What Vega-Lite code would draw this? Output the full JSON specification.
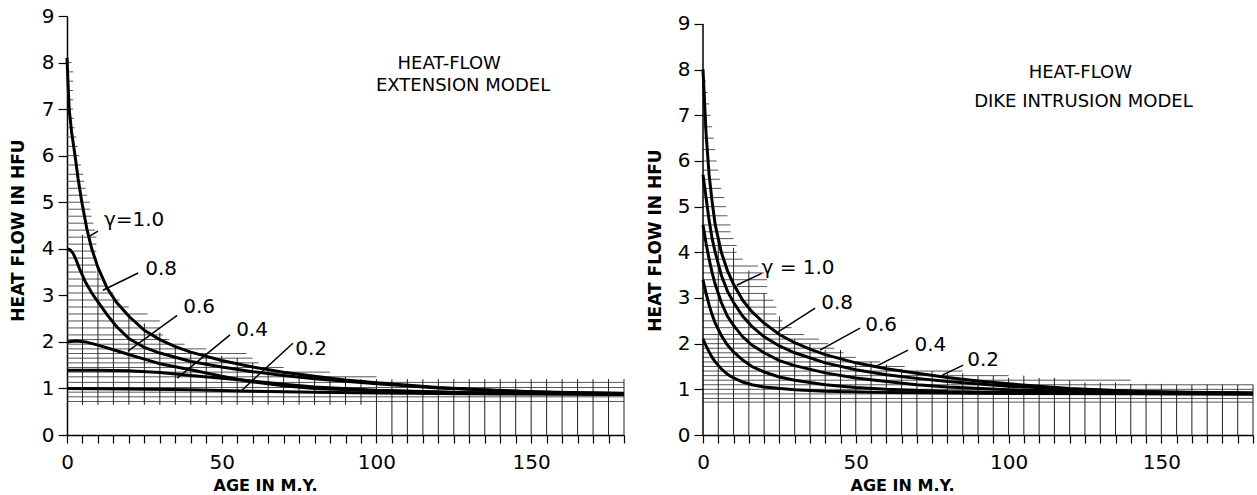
{
  "$schema": "https://vega.github.io/schema/vega-lite/v6.json",
  "padding": {"left": 9, "top": 6, "right": 4, "bottom": 2},
  "background": "white",
  "config": {
    "view": {"stroke": null},
    "axis": {"domainColor": "black", "tickColor": "black", "labelColor": "black", "titleColor": "black", "grid": false, "labelFont": "DejaVu Sans", "titleFont": "DejaVu Sans"},
    "text": {"font": "DejaVu Sans", "color": "black"}
  },
  "bounds": "flush",
  "spacing": 79,
  "datasets": {
    "leftCurves": [
      {"g":"1.0","t":0,"q":8.1},{"g":"1.0","t":0.3,"q":7.6},{"g":"1.0","t":0.7,"q":7.0},{"g":"1.0","t":1.5,"q":6.5},{"g":"1.0","t":2.6,"q":6.0},{"g":"1.0","t":3.6,"q":5.5},{"g":"1.0","t":4.8,"q":5.0},{"g":"1.0","t":6.5,"q":4.4},{"g":"1.0","t":8,"q":4.0},{"g":"1.0","t":10,"q":3.6},{"g":"1.0","t":13,"q":3.15},{"g":"1.0","t":16,"q":2.85},{"g":"1.0","t":20,"q":2.55},{"g":"1.0","t":25,"q":2.25},{"g":"1.0","t":30,"q":2.05},{"g":"1.0","t":35,"q":1.9},{"g":"1.0","t":40,"q":1.78},{"g":"1.0","t":50,"q":1.6},{"g":"1.0","t":60,"q":1.46},{"g":"1.0","t":70,"q":1.35},{"g":"1.0","t":80,"q":1.26},{"g":"1.0","t":90,"q":1.18},{"g":"1.0","t":100,"q":1.12},{"g":"1.0","t":120,"q":1.02},{"g":"1.0","t":140,"q":0.95},{"g":"1.0","t":160,"q":0.91},{"g":"1.0","t":180,"q":0.89},
      {"g":"0.8","t":0,"q":4.0},{"g":"0.8","t":1,"q":3.98},{"g":"0.8","t":2,"q":3.9},{"g":"0.8","t":3,"q":3.75},{"g":"0.8","t":4,"q":3.58},{"g":"0.8","t":6,"q":3.28},{"g":"0.8","t":8,"q":3.05},{"g":"0.8","t":10,"q":2.86},{"g":"0.8","t":13,"q":2.58},{"g":"0.8","t":16,"q":2.33},{"g":"0.8","t":20,"q":2.07},{"g":"0.8","t":25,"q":1.88},{"g":"0.8","t":30,"q":1.76},{"g":"0.8","t":40,"q":1.58},{"g":"0.8","t":50,"q":1.46},{"g":"0.8","t":60,"q":1.36},{"g":"0.8","t":70,"q":1.28},{"g":"0.8","t":80,"q":1.21},{"g":"0.8","t":100,"q":1.1},{"g":"0.8","t":120,"q":1.01},{"g":"0.8","t":150,"q":0.93},{"g":"0.8","t":180,"q":0.89},
      {"g":"0.6","t":0,"q":2.0},{"g":"0.6","t":3,"q":2.02},{"g":"0.6","t":6,"q":2.0},{"g":"0.6","t":10,"q":1.93},{"g":"0.6","t":15,"q":1.83},{"g":"0.6","t":20,"q":1.73},{"g":"0.6","t":25,"q":1.63},{"g":"0.6","t":30,"q":1.53},{"g":"0.6","t":40,"q":1.4},{"g":"0.6","t":50,"q":1.26},{"g":"0.6","t":60,"q":1.14},{"g":"0.6","t":70,"q":1.06},{"g":"0.6","t":80,"q":1.0},{"g":"0.6","t":100,"q":0.95},{"g":"0.6","t":130,"q":0.91},{"g":"0.6","t":180,"q":0.88},
      {"g":"0.4","t":0,"q":1.39},{"g":"0.4","t":10,"q":1.39},{"g":"0.4","t":20,"q":1.38},{"g":"0.4","t":30,"q":1.34},{"g":"0.4","t":40,"q":1.28},{"g":"0.4","t":50,"q":1.22},{"g":"0.4","t":60,"q":1.16},{"g":"0.4","t":70,"q":1.09},{"g":"0.4","t":80,"q":1.03},{"g":"0.4","t":100,"q":0.96},{"g":"0.4","t":130,"q":0.91},{"g":"0.4","t":180,"q":0.88},
      {"g":"0.2","t":0,"q":1.0},{"g":"0.2","t":20,"q":0.99},{"g":"0.2","t":40,"q":0.97},{"g":"0.2","t":60,"q":0.94},{"g":"0.2","t":80,"q":0.92},{"g":"0.2","t":100,"q":0.9},{"g":"0.2","t":140,"q":0.88},{"g":"0.2","t":180,"q":0.87}
    ],
    "rightCurves": [
      {"g":"1.0","t":0,"q":8.0},{"g":"1.0","t":1,"q":6.6},{"g":"1.0","t":2,"q":5.7},{"g":"1.0","t":3,"q":5.1},{"g":"1.0","t":4,"q":4.6},{"g":"1.0","t":6,"q":4.0},{"g":"1.0","t":8,"q":3.6},{"g":"1.0","t":10,"q":3.3},{"g":"1.0","t":13,"q":2.95},{"g":"1.0","t":16,"q":2.7},{"g":"1.0","t":20,"q":2.45},{"g":"1.0","t":25,"q":2.2},{"g":"1.0","t":30,"q":2.02},{"g":"1.0","t":35,"q":1.88},{"g":"1.0","t":40,"q":1.76},{"g":"1.0","t":50,"q":1.58},{"g":"1.0","t":60,"q":1.45},{"g":"1.0","t":70,"q":1.35},{"g":"1.0","t":80,"q":1.26},{"g":"1.0","t":90,"q":1.18},{"g":"1.0","t":100,"q":1.12},{"g":"1.0","t":120,"q":1.02},{"g":"1.0","t":140,"q":0.96},{"g":"1.0","t":160,"q":0.93},{"g":"1.0","t":180,"q":0.92},
      {"g":"0.8","t":0,"q":5.7},{"g":"0.8","t":1,"q":5.2},{"g":"0.8","t":2,"q":4.7},{"g":"0.8","t":3,"q":4.3},{"g":"0.8","t":4,"q":4.0},{"g":"0.8","t":6,"q":3.5},{"g":"0.8","t":8,"q":3.15},{"g":"0.8","t":10,"q":2.9},{"g":"0.8","t":13,"q":2.6},{"g":"0.8","t":16,"q":2.38},{"g":"0.8","t":20,"q":2.15},{"g":"0.8","t":25,"q":1.95},{"g":"0.8","t":30,"q":1.8},{"g":"0.8","t":40,"q":1.58},{"g":"0.8","t":50,"q":1.43},{"g":"0.8","t":60,"q":1.32},{"g":"0.8","t":70,"q":1.24},{"g":"0.8","t":80,"q":1.17},{"g":"0.8","t":100,"q":1.07},{"g":"0.8","t":120,"q":1.0},{"g":"0.8","t":150,"q":0.94},{"g":"0.8","t":180,"q":0.92},
      {"g":"0.6","t":0,"q":4.6},{"g":"0.6","t":1,"q":4.2},{"g":"0.6","t":2,"q":3.85},{"g":"0.6","t":3,"q":3.55},{"g":"0.6","t":4,"q":3.3},{"g":"0.6","t":6,"q":2.9},{"g":"0.6","t":8,"q":2.6},{"g":"0.6","t":10,"q":2.4},{"g":"0.6","t":13,"q":2.15},{"g":"0.6","t":16,"q":1.97},{"g":"0.6","t":20,"q":1.8},{"g":"0.6","t":25,"q":1.63},{"g":"0.6","t":30,"q":1.52},{"g":"0.6","t":40,"q":1.36},{"g":"0.6","t":50,"q":1.25},{"g":"0.6","t":60,"q":1.17},{"g":"0.6","t":70,"q":1.1},{"g":"0.6","t":80,"q":1.05},{"g":"0.6","t":100,"q":0.99},{"g":"0.6","t":130,"q":0.94},{"g":"0.6","t":180,"q":0.91},
      {"g":"0.4","t":0,"q":3.4},{"g":"0.4","t":1,"q":3.1},{"g":"0.4","t":2,"q":2.85},{"g":"0.4","t":3,"q":2.63},{"g":"0.4","t":4,"q":2.45},{"g":"0.4","t":6,"q":2.18},{"g":"0.4","t":8,"q":1.97},{"g":"0.4","t":10,"q":1.82},{"g":"0.4","t":13,"q":1.64},{"g":"0.4","t":16,"q":1.5},{"g":"0.4","t":20,"q":1.38},{"g":"0.4","t":25,"q":1.27},{"g":"0.4","t":30,"q":1.2},{"g":"0.4","t":40,"q":1.1},{"g":"0.4","t":50,"q":1.04},{"g":"0.4","t":60,"q":1.0},{"g":"0.4","t":80,"q":0.95},{"g":"0.4","t":100,"q":0.93},{"g":"0.4","t":140,"q":0.91},{"g":"0.4","t":180,"q":0.9},
      {"g":"0.2","t":0,"q":2.1},{"g":"0.2","t":1,"q":1.95},{"g":"0.2","t":2,"q":1.82},{"g":"0.2","t":3,"q":1.7},{"g":"0.2","t":4,"q":1.6},{"g":"0.2","t":6,"q":1.45},{"g":"0.2","t":8,"q":1.33},{"g":"0.2","t":10,"q":1.25},{"g":"0.2","t":13,"q":1.16},{"g":"0.2","t":16,"q":1.1},{"g":"0.2","t":20,"q":1.05},{"g":"0.2","t":30,"q":0.99},{"g":"0.2","t":40,"q":0.96},{"g":"0.2","t":60,"q":0.93},{"g":"0.2","t":100,"q":0.91},{"g":"0.2","t":180,"q":0.9}
    ],
    "leftH": [
      {"t":0,"t2":180,"q":0.72},{"t":0,"t2":180,"q":0.82},{"t":0,"t2":180,"q":0.92},{"t":0,"t2":180,"q":1.02},{"t":0,"t2":180,"q":1.13},{"t":0,"t2":100,"q":1.25},{"t":0,"t2":85,"q":1.35},{"t":0,"t2":70,"q":1.45},{"t":0,"t2":62,"q":1.55},{"t":0,"t2":60,"q":1.65},{"t":0,"t2":58,"q":1.75},{"t":0,"t2":45,"q":1.85},{"t":0,"t2":38,"q":1.95},{"t":0,"t2":33,"q":2.05},{"t":0,"t2":31,"q":2.15},{"t":0,"t2":30,"q":2.3},{"t":0,"t2":30,"q":2.45},{"t":0,"t2":26,"q":2.6},{"t":0,"t2":20,"q":2.75},{"t":0,"t2":17,"q":2.9},{"t":0,"t2":15,"q":3.05},{"t":0,"t2":13,"q":3.2},{"t":0,"t2":11,"q":3.35},{"t":0,"t2":9.5,"q":3.5},{"t":0,"t2":9.5,"q":3.65},{"t":0,"t2":9.5,"q":3.8},{"t":0,"t2":9.5,"q":3.95},{"t":0,"t2":9.5,"q":4.1},{"t":0,"t2":9.5,"q":4.25},{"t":0,"t2":9,"q":4.4},{"t":0,"t2":8.5,"q":4.55},{"t":0,"t2":8,"q":4.7},{"t":0,"t2":7.5,"q":4.85},{"t":0,"t2":7.4,"q":5.0},{"t":0,"t2":6.5,"q":5.15},{"t":0,"t2":6,"q":5.3},{"t":0,"t2":5.5,"q":5.45},{"t":0,"t2":5.2,"q":5.6},{"t":0,"t2":4.5,"q":5.8},{"t":0,"t2":4,"q":6.0},{"t":0,"t2":3.5,"q":6.2},{"t":0,"t2":3,"q":6.4},{"t":0,"t2":2.5,"q":6.6},{"t":0,"t2":2.2,"q":6.8},{"t":0,"t2":2,"q":7.0},{"t":0,"t2":2,"q":7.2},{"t":0,"t2":2,"q":7.4},{"t":0,"t2":2,"q":7.6},{"t":0,"t2":2,"q":7.8},{"t":0,"t2":1.5,"q":8.0}
    ],
    "leftV": [
      {"t":5,"q":0.65,"q2":4.3},{"t":10,"q":0.65,"q2":3.6},{"t":15,"q":0.65,"q2":3.0},{"t":20,"q":0.65,"q2":2.6},{"t":25,"q":0.65,"q2":2.4},{"t":30,"q":0.65,"q2":2.2},{"t":35,"q":0.65,"q2":1.9},{"t":40,"q":0.65,"q2":1.8},{"t":45,"q":0.65,"q2":1.75},{"t":50,"q":0.65,"q2":1.7},{"t":55,"q":0.65,"q2":1.65},{"t":60,"q":0.65,"q2":1.55},{"t":65,"q":0.65,"q2":1.4},{"t":70,"q":0.65,"q2":1.35},{"t":75,"q":0.65,"q2":1.3},{"t":80,"q":0.65,"q2":1.25},{"t":85,"q":0.65,"q2":1.25},{"t":90,"q":0.65,"q2":1.25},{"t":95,"q":0.65,"q2":1.2},
      {"t":100,"q":0,"q2":1.2},{"t":105,"q":0,"q2":1.2},{"t":110,"q":0,"q2":1.2},{"t":115,"q":0,"q2":1.2},{"t":120,"q":0,"q2":1.2},{"t":125,"q":0,"q2":1.2},{"t":130,"q":0,"q2":1.2},{"t":135,"q":0,"q2":1.2},{"t":140,"q":0,"q2":1.2},{"t":145,"q":0,"q2":1.2},{"t":150,"q":0,"q2":1.2},{"t":155,"q":0,"q2":1.2},{"t":160,"q":0,"q2":1.2},{"t":165,"q":0,"q2":1.2},{"t":170,"q":0,"q2":1.2},{"t":175,"q":0,"q2":1.2},{"t":180,"q":0,"q2":1.2}
    ],
    "rightH": [
      {"t":0,"t2":180,"q":0.72},{"t":0,"t2":180,"q":0.8},{"t":0,"t2":180,"q":0.9},{"t":0,"t2":180,"q":1.0},{"t":0,"t2":180,"q":1.1},{"t":0,"t2":140,"q":1.2},{"t":0,"t2":100,"q":1.3},{"t":0,"t2":85,"q":1.4},{"t":0,"t2":66,"q":1.5},{"t":0,"t2":58,"q":1.6},{"t":0,"t2":50,"q":1.7},{"t":0,"t2":46,"q":1.8},{"t":0,"t2":43,"q":1.9},{"t":0,"t2":41,"q":2.0},{"t":0,"t2":38,"q":2.1},{"t":0,"t2":33,"q":2.2},{"t":0,"t2":29,"q":2.35},{"t":0,"t2":26,"q":2.5},{"t":0,"t2":24,"q":2.65},{"t":0,"t2":24,"q":2.8},{"t":0,"t2":23,"q":2.95},{"t":0,"t2":21,"q":3.1},{"t":0,"t2":21,"q":3.25},{"t":0,"t2":21,"q":3.4},{"t":0,"t2":20,"q":3.55},{"t":0,"t2":18,"q":3.7},{"t":0,"t2":13,"q":3.85},{"t":0,"t2":11,"q":4.0},{"t":0,"t2":11,"q":4.15},{"t":0,"t2":10,"q":4.3},{"t":0,"t2":9,"q":4.45},{"t":0,"t2":9,"q":4.6},{"t":0,"t2":8,"q":4.8},{"t":0,"t2":7.5,"q":5.0},{"t":0,"t2":7,"q":5.2},{"t":0,"t2":6,"q":5.4},{"t":0,"t2":5.5,"q":5.6},{"t":0,"t2":5,"q":5.8},{"t":0,"t2":4.5,"q":6.0},{"t":0,"t2":4,"q":6.25},{"t":0,"t2":3.5,"q":6.5},{"t":0,"t2":3,"q":6.75},{"t":0,"t2":2.5,"q":7.0},{"t":0,"t2":2,"q":7.25},{"t":0,"t2":1.5,"q":7.5},{"t":0,"t2":1,"q":7.75},{"t":0,"t2":0.5,"q":8.0}
    ],
    "rightV": [
      {"t":5,"q":0,"q2":4.3},{"t":10,"q":0,"q2":4.1},{"t":15,"q":0,"q2":3.6},{"t":20,"q":0,"q2":3.1},{"t":25,"q":0,"q2":2.6},{"t":30,"q":0,"q2":2.1},{"t":35,"q":0,"q2":2.0},{"t":40,"q":0,"q2":1.86},{"t":45,"q":0,"q2":1.86},{"t":50,"q":0,"q2":1.6},{"t":55,"q":0,"q2":1.6},{"t":60,"q":0,"q2":1.55},{"t":65,"q":0,"q2":1.45},{"t":70,"q":0,"q2":1.4},{"t":75,"q":0,"q2":1.4},{"t":80,"q":0,"q2":1.35},{"t":85,"q":0,"q2":1.35},{"t":90,"q":0,"q2":1.3},{"t":95,"q":0,"q2":1.3},{"t":100,"q":0,"q2":1.25},{"t":105,"q":0,"q2":1.3},{"t":110,"q":0,"q2":1.25},{"t":115,"q":0,"q2":1.25},{"t":120,"q":0,"q2":1.2},{"t":125,"q":0,"q2":1.15},{"t":130,"q":0,"q2":1.15},{"t":135,"q":0,"q2":1.15},{"t":140,"q":0,"q2":1.12},{"t":145,"q":0,"q2":1.12},{"t":150,"q":0,"q2":1.12},{"t":155,"q":0,"q2":1.1},{"t":160,"q":0,"q2":1.1},{"t":165,"q":0,"q2":1.1},{"t":170,"q":0,"q2":1.1},{"t":175,"q":0,"q2":1.1},{"t":180,"q":0,"q2":1.1}
    ],
    "leftLabels": [
      {"t":21.7,"q":4.61,"txt":"γ=1.0"},{"t":30.4,"q":3.56,"txt":"0.8"},{"t":42.7,"q":2.75,"txt":"0.6"},{"t":59.8,"q":2.25,"txt":"0.4"},{"t":78.9,"q":1.85,"txt":"0.2"}
    ],
    "rightLabels": [
      {"t":31.1,"q":3.65,"txt":"γ = 1.0"},{"t":43.9,"q":2.89,"txt":"0.8"},{"t":58.3,"q":2.41,"txt":"0.6"},{"t":74.4,"q":1.97,"txt":"0.4"},{"t":91.7,"q":1.64,"txt":"0.2"}
    ],
    "leftLeaders": [
      {"t":10.0,"q":4.38,"t2":6.8,"q2":4.25},{"t":23,"q":3.48,"t2":11.6,"q2":3.11},{"t":35.6,"q":2.57,"t2":19.7,"q2":1.8},{"t":52.7,"q":2.15,"t2":35.6,"q2":1.22},{"t":73,"q":1.97,"t2":56,"q2":0.93}
    ],
    "rightLeaders": [
      {"t":19.2,"q":3.54,"t2":11,"q2":3.28},{"t":36.7,"q":2.78,"t2":24.6,"q2":2.26},{"t":51.4,"q":2.34,"t2":38.3,"q2":1.86},{"t":67.1,"q":1.86,"t2":56.3,"q2":1.49},{"t":85.2,"q":1.53,"t2":78.3,"q2":1.31}
    ],
    "leftTitles": [
      {"t":123.5,"q":7.96,"txt":"HEAT-FLOW"},{"t":128,"q":7.5,"txt":"EXTENSION MODEL"}
    ],
    "rightTitles": [
      {"t":123.5,"q":7.92,"txt":"HEAT-FLOW"},{"t":124.5,"q":7.29,"txt":"DIKE INTRUSION MODEL"}
    ],
    "rightSpine": [
      {"t":0,"q":0,"q2":9}
    ]
  },
  "hconcat": [
    {
      "width": 557,
      "height": 419,
      "encoding": {
        "x": {"field": "t", "type": "quantitative", "scale": {"domain": [0, 180], "nice": false, "zero": false},
          "axis": {"title": "AGE IN M.Y.", "values": [0,5,10,15,20,25,30,35,40,45,50,55,60,65,70,75,80,85,90,95,100,105,110,115,120,125,130,135,140,145,150,155,160,165,170,175,180],
            "labelExpr": "datum.value % 50 === 0 ? datum.label : ''", "tickSize": 8, "labelPadding": 9, "labelFontSize": 20, "titleFontSize": 16, "titleFontWeight": "bold",
            "titleX": 198, "titleY": 50, "titleBaseline": "middle", "titleAlign": "center", "domainWidth": 1.5, "tickWidth": 1.2, "labelOverlap": false, "labelFlush": false, "format": "d"}},
        "y": {"field": "q", "type": "quantitative", "scale": {"domain": [0, 9], "nice": false},
          "axis": {"title": "HEAT FLOW IN HFU", "values": [0,1,2,3,4,5,6,7,8,9], "tickSize": 9, "labelPadding": 4, "labelFontSize": 20, "titleFontSize": 17, "titleFontWeight": "bold",
            "titleX": -49, "titleY": 214, "titleAngle": -90, "titleAlign": "center", "titleBaseline": "middle", "domainWidth": 1.5, "tickWidth": 1.2, "labelOverlap": false, "labelFlush": false, "format": "d"}}
      },
      "layer": [
        {"data": {"name": "leftH"}, "mark": {"type": "rule", "color": "#444", "strokeWidth": 0.9}, "encoding": {"x2": {"field": "t2"}}},
        {"data": {"name": "leftV"}, "mark": {"type": "rule", "color": "#222", "strokeWidth": 1}, "encoding": {"y2": {"field": "q2"}}},
        {"data": {"name": "leftCurves"}, "mark": {"type": "line", "color": "black", "strokeWidth": 3}, "encoding": {"detail": {"field": "g"}}},
        {"data": {"name": "leftLeaders"}, "mark": {"type": "rule", "color": "black", "strokeWidth": 1.5}, "encoding": {"x2": {"field": "t2"}, "y2": {"field": "q2"}}},
        {"data": {"name": "leftLabels"}, "mark": {"type": "text", "fontSize": 20, "align": "center", "baseline": "middle"}, "encoding": {"text": {"field": "txt"}}},
        {"data": {"name": "leftTitles"}, "mark": {"type": "text", "fontSize": 18, "align": "center", "baseline": "middle"}, "encoding": {"text": {"field": "txt"}}}
      ]
    },
    {
      "width": 550,
      "height": 419,
      "encoding": {
        "x": {"field": "t", "type": "quantitative", "scale": {"domain": [0, 180], "nice": false, "zero": false},
          "axis": {"title": "AGE IN M.Y.", "values": [0,5,10,15,20,25,30,35,40,45,50,55,60,65,70,75,80,85,90,95,100,105,110,115,120,125,130,135,140,145,150,155,160,165,170,175,180],
            "labelExpr": "datum.value % 50 === 0 ? datum.label : ''", "tickSize": 8, "labelPadding": 9, "labelFontSize": 20, "titleFontSize": 16, "titleFontWeight": "bold",
            "titleX": 199, "titleY": 50, "titleBaseline": "middle", "titleAlign": "center", "domainWidth": 1.5, "tickWidth": 1.2, "labelOverlap": false, "labelFlush": false, "format": "d"}},
        "y": {"field": "q", "type": "quantitative", "scale": {"domain": [0, 9.175], "nice": false},
          "axis": {"title": "HEAT FLOW IN HFU", "values": [0,1,2,3,4,5,6,7,8,9], "domain": false, "tickSize": 9, "labelPadding": 4, "labelFontSize": 20, "titleFontSize": 17, "titleFontWeight": "bold",
            "titleX": -48, "titleY": 224, "titleAngle": -90, "titleAlign": "center", "titleBaseline": "middle", "tickWidth": 1.2, "labelOverlap": false, "labelFlush": false, "format": "d"}}
      },
      "layer": [
        {"data": {"name": "rightH"}, "mark": {"type": "rule", "color": "#444", "strokeWidth": 0.9}, "encoding": {"x2": {"field": "t2"}}},
        {"data": {"name": "rightV"}, "mark": {"type": "rule", "color": "#222", "strokeWidth": 1}, "encoding": {"y2": {"field": "q2"}}},
        {"data": {"name": "rightSpine"}, "mark": {"type": "rule", "color": "black", "strokeWidth": 1.5}, "encoding": {"y2": {"field": "q2"}}},
        {"data": {"name": "rightCurves"}, "mark": {"type": "line", "color": "black", "strokeWidth": 3}, "encoding": {"detail": {"field": "g"}}},
        {"data": {"name": "rightLeaders"}, "mark": {"type": "rule", "color": "black", "strokeWidth": 1.5}, "encoding": {"x2": {"field": "t2"}, "y2": {"field": "q2"}}},
        {"data": {"name": "rightLabels"}, "mark": {"type": "text", "fontSize": 20, "align": "center", "baseline": "middle"}, "encoding": {"text": {"field": "txt"}}},
        {"data": {"name": "rightTitles"}, "mark": {"type": "text", "fontSize": 18, "align": "center", "baseline": "middle"}, "encoding": {"text": {"field": "txt"}}}
      ]
    }
  ]
}
